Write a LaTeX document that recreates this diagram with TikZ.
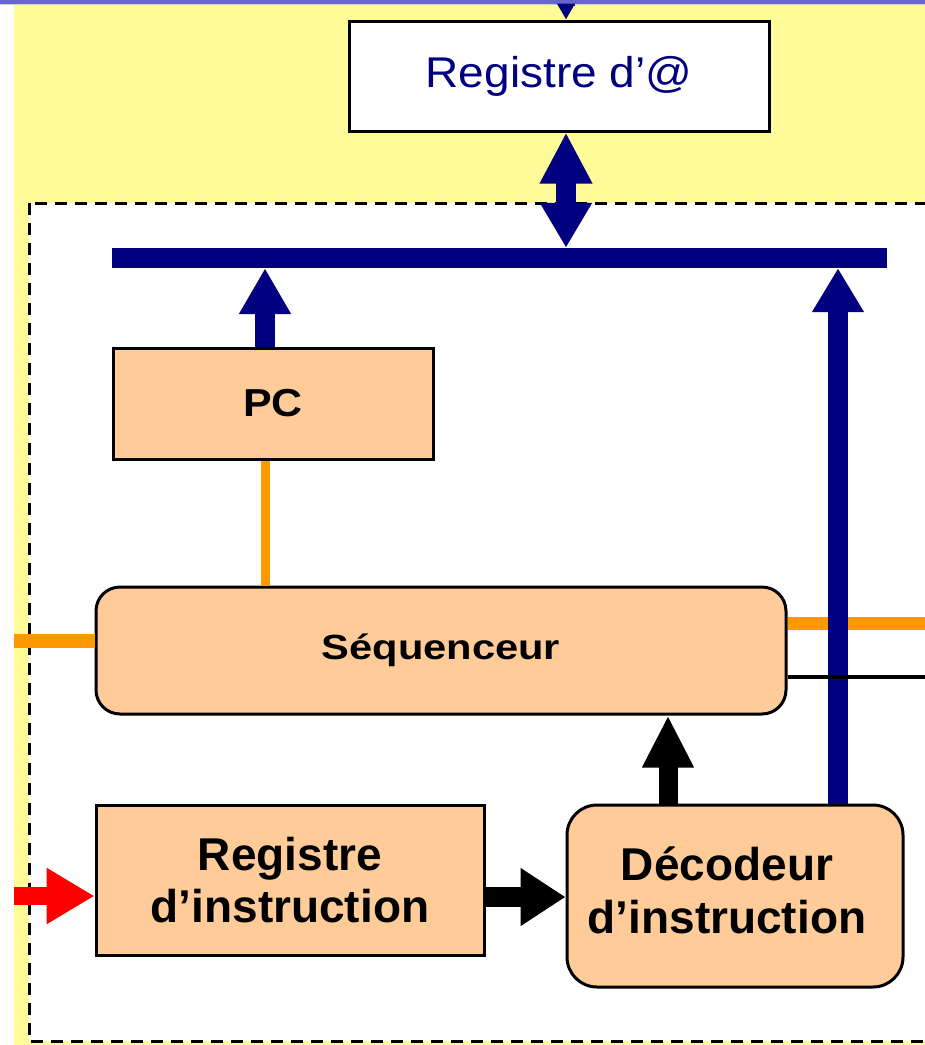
\documentclass[tikz,border=0pt]{standalone}
\usepackage{fontspec}
\setmainfont{Liberation Sans}
\usepackage{tikz}
\usetikzlibrary{arrows.meta}
\usetikzlibrary{positioning}

\definecolor{navybus}{HTML}{000080}
\definecolor{peach}{HTML}{FFCC99}
\definecolor{ctrlorange}{HTML}{FF9900}
\definecolor{paleyellow}{HTML}{FFFB99}
\definecolor{band}{HTML}{6666CC}

% wide label, as set in the slide
\newcommand{\widetext}[2]{\scalebox{#1}[1]{#2}}

\tikzset{
  unit/.style={draw, line width=3pt, fill=peach, inner sep=0pt, align=center, font=\bfseries},
  runit/.style={unit, rounded corners=24pt},
  busline/.style={navybus, line width=20pt, -{Triangle[width=49pt,length=46pt]}},
  ctrl/.style={ctrlorange, line width=11pt},
}

\begin{document}
\begin{tikzpicture}[x=1pt,y=-1pt]
    \clip (0,0) rectangle (925,1045);
    % background and processor frame
    \fill[white] (0,0) rectangle (925,1045);
    \fill[paleyellow] (14,5) rectangle (925,1045);
    \fill[band] (0,0) rectangle (925,4);
    \draw[gray!40, line width=1pt] (0,4.5) -- (925,4.5);
    \draw[line width=3pt, dash pattern=on 12pt off 8pt, fill=white] (29,203) rectangle (960,1041);

    % blocks
    \node[draw, line width=3pt, fill=white, minimum width=420pt, minimum height=110pt,
          text=navybus, font=\fontsize{43}{50}\selectfont] (regad) at (559,76) {\widetext{1.07}{Registre d’@}};
    \node[unit, minimum width=320pt, minimum height=111pt, font=\bfseries\fontsize{39}{44}\selectfont] (pc) at (273,403.5) {\widetext{1.1}{PC}};
    \node[runit, minimum width=690pt, minimum height=127pt, font=\bfseries\fontsize{35}{40}\selectfont] (seq) at (441,650.5) {\raisebox{5pt}{\widetext{1.19}{Séquenceur}}};
    \node[unit, minimum width=388pt, minimum height=150pt, font=\bfseries\fontsize{46}{52}\selectfont] (regi) at (290,880) {Registre\\d’instruction};
    \node[runit, rounded corners=30pt, minimum width=336pt, minimum height=182pt, font=\bfseries\fontsize{46}{55}\selectfont] (dec) at (735,896) {\hspace*{-16pt}\raisebox{7pt}{\begin{tabular}{@{}c@{}}Décodeur\\[-2pt]d’instruction\end{tabular}}};

    % address bus
    \node[fill=navybus, inner sep=0pt, minimum width=775pt, minimum height=20pt] (bus) at (499.5,258) {};
    \coordinate (feed) at (566,5);
    \coordinate (tap) at (838,0);
    \coordinate (seqout) at (925,623);
    \coordinate (seqclk) at (925,677);
    \coordinate (seqin) at (14,641);
    \coordinate (irin) at (14,896);

    % control lines
    \draw[ctrl, line width=9pt] ([xshift=-8pt]pc.south) -- ([xshift=-8pt]pc.south |- seq.north);
    \draw[ctrl, line width=14pt] (seqin) -- (seqin -| seq.west);
    \draw[ctrl, line width=13pt] (seqout -| seq.east) -- (seqout);

    % bus arrows
    \draw[navybus, line width=17pt, -{Triangle[width=17pt,length=16pt]}] (feed) -- (feed |- regad.north);
    \draw[busline, {Triangle[width=49pt,length=51pt]}-{Triangle[width=49pt,length=45pt]}]
        ([xshift=7pt]regad.south) -- ([xshift=7pt]regad.south |- bus.north);
    \draw[busline] ([xshift=-8pt]pc.north) -- ([xshift=-8pt]pc.north |- bus.south);
    \draw[busline, -{Triangle[width=49pt,length=44pt]}] (tap |- dec.north) -- (tap |- bus.south);

    \draw[line width=3.5pt] (seqclk -| seq.east) -- (seqclk);

    % instruction path
    \draw[red, line width=18pt, -{Triangle[width=53pt,length=48pt]}] (irin) -- (irin -| regi.west);
    \draw[line width=20pt, -{Triangle[width=55pt,length=45pt]}] ([yshift=-17pt]regi.east) -- ([yshift=-17pt]regi.east -| dec.west);
    \draw[line width=19pt, -{Triangle[width=48pt,length=52pt]}] ([xshift=-67pt]dec.north) -- ([xshift=-67pt]dec.north |- seq.south);
\end{tikzpicture}
\end{document}
